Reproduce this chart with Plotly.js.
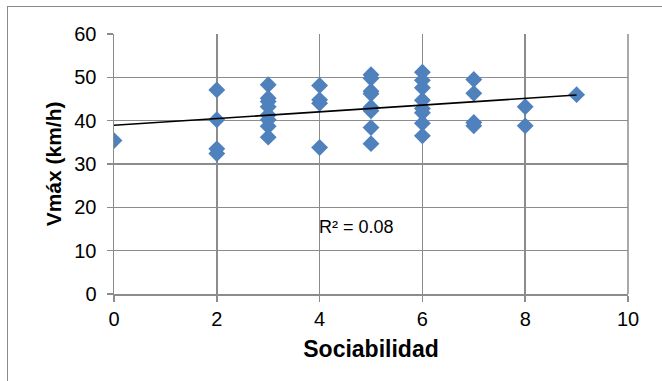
<!DOCTYPE html>
<html>
<head>
<meta charset="utf-8">
<script src="https://cdn.plot.ly/plotly-3.0.1.min.js"></script>
<style>
html,body{margin:0;padding:0;background:#fff;width:662px;height:381px;overflow:hidden;}
#frame{position:absolute;left:7px;top:6px;width:700px;height:400px;border-left:1px solid #8a8a8a;border-top:1px solid #8a8a8a;pointer-events:none;z-index:5;}
#chart{position:absolute;left:0;top:0;width:662px;height:381px;}
</style>
</head>
<body>
<div id="chart"></div>
<div id="frame"></div>
<script>
// Sociabilidad (x) and Vmáx (km/h) (y)
const sociabilidad = [0,
  2,2,2,2,
  3,3,3,3,3,3,3,3,
  4,4,4,4,
  5,5,5,5,5,5,5,5,
  6,6,6,6,6,6,6,6,
  7,7,7,7,
  8,8,
  9];
const vmax = [35.4,
  47.1,40.2,33.5,32.4,
  48.3,45.2,44.4,43.2,41.3,40.2,38.7,36.2,
  48.1,44.8,44.0,33.8,
  50.6,49.8,46.8,46.2,43.1,42.3,38.4,34.7,
  51.2,49.3,47.6,44.7,42.8,41.8,39.4,36.5,
  49.5,46.3,39.6,38.8,
  43.2,38.8,
  46.0];
const r2Label = "R² = 0.08";
const xTitle = "Sociabilidad";
const yTitle = "Vmáx (km/h)";
const xTicks = [0,2,4,6,8,10];
const yTicks = [0,10,20,30,40,50,60];

// least-squares trend line from the data
const n = sociabilidad.length;
let sx=0, sy=0, sxx=0, sxy=0;
for (let i=0;i<n;i++){sx+=sociabilidad[i];sy+=vmax[i];sxx+=sociabilidad[i]*sociabilidad[i];sxy+=sociabilidad[i]*vmax[i];}
const slope = (n*sxy - sx*sy)/(n*sxx - sx*sx);
const intercept = (sy - slope*sx)/n;
const xmin = Math.min(...sociabilidad), xmax = Math.max(...sociabilidad);
const trendX = [xmin, xmax];
const trendY = trendX.map(v => intercept + slope*v);

const tickFont = {family:"'Liberation Sans',Arial,sans-serif", size:20, color:'#000'};
const xTitleFont = {family:"'Liberation Sans',Arial,sans-serif", size:23, color:'#000', weight:'bold'};
const yTitleFont = {family:"'Liberation Sans',Arial,sans-serif", size:21, color:'#000', weight:'bold'};

const data = [
  {x: sociabilidad, y: vmax, type:'scatter', mode:'markers',
   marker:{symbol:'diamond', size:13, color:'#4F81BD', line:{width:0}}, hoverinfo:'x+y'},
  {x: trendX, y: trendY, type:'scatter', mode:'lines',
   line:{color:'#000', width:1.6}, hoverinfo:'skip'}
];

const layout = {
  width:662, height:381,
  margin:{l:114, r:34, t:34, b:87},
  paper_bgcolor:'#fff', plot_bgcolor:'#fff',
  showlegend:false,
  xaxis:{range:[0,10], tickvals:xTicks, ticktext:xTicks.map(String),
    showgrid:true, gridcolor:'#8c8c8c', gridwidth:1.5,
    showline:true, linecolor:'#8c8c8c', linewidth:1.5,
    ticks:'outside', ticklen:6, tickcolor:'#8c8c8c', tickwidth:1.5,
    ticklabelstandoff:0,
    zeroline:false, tickfont:tickFont,
    title:{text:xTitle, font:xTitleFont, standoff:12}},
  yaxis:{range:[0,60], tickvals:yTicks, ticktext:yTicks.map(String),
    showgrid:true, gridcolor:'#8c8c8c', gridwidth:1.5,
    showline:true, linecolor:'#8c8c8c', linewidth:1.5,
    ticks:'outside', ticklen:6, tickcolor:'#8c8c8c', tickwidth:1.5,
    ticklabelstandoff:6,
    zeroline:false, tickfont:tickFont},
  shapes:[{type:'line', xref:'paper', yref:'paper', x0:1, x1:1, y0:0, y1:1, line:{color:'#8c8c8c', width:1.5}}],
  annotations:[
    {x:4.71, y:15.5, xref:'x', yref:'y', text:r2Label, showarrow:false,
     font:{family:"'Liberation Sans',Arial,sans-serif", size:18, color:'#000'}},
    {x:-0.117, y:0.502, xref:'paper', yref:'paper', text:yTitle, textangle:-90, showarrow:false,
     xanchor:'center', yanchor:'middle', font:yTitleFont}
  ]
};

Plotly.newPlot('chart', data, layout, {displayModeBar:false, staticPlot:true});
</script>
</body>
</html>
